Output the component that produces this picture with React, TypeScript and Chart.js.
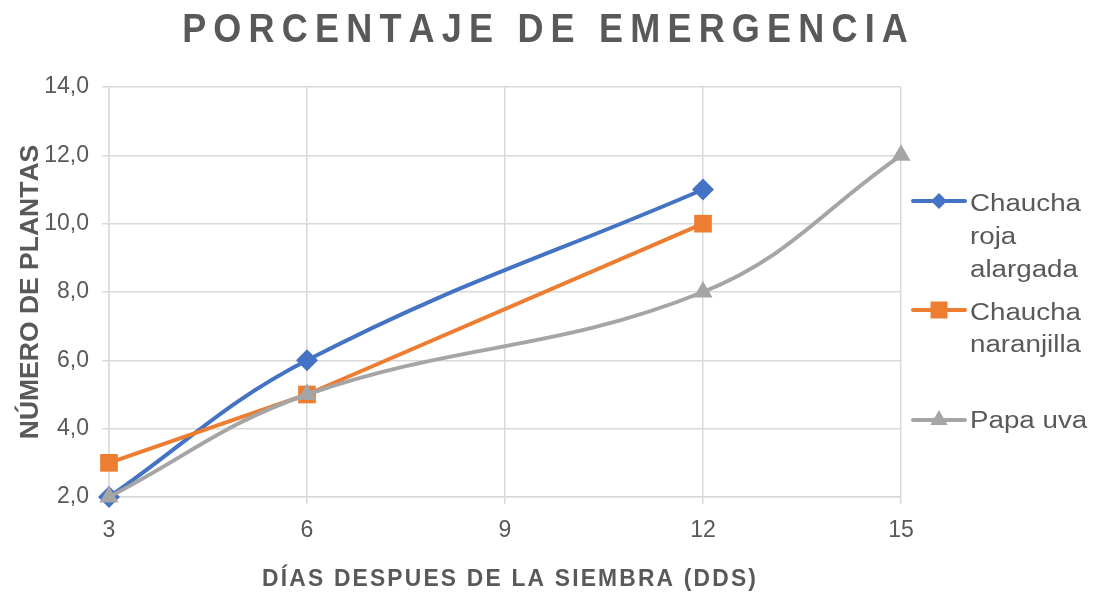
import React, { useEffect, useRef } from "react";
import { Chart, registerables } from "chart.js";

Chart.register(...registerables);

const TITLE = "PORCENTAJE DE EMERGENCIA";
const X_TITLE = "DÍAS DESPUES DE LA SIEMBRA (DDS)";
const Y_TITLE = "NÚMERO DE PLANTAS";

const X_TICKS = [3, 6, 9, 12, 15];
const Y_TICKS = [2, 4, 6, 8, 10, 12, 14];

const SERIES_NAMES = ["Chaucha roja alargada", "Chaucha naranjilla", "Papa uva"];
const LEGEND_LINES = [["Chaucha", "roja", "alargada"], ["Chaucha", "naranjilla"], ["Papa uva"]];

const ROJA_X = [3, 6, 12];
const ROJA_Y = [2, 6, 11];
const NARANJILLA_X = [3, 6, 12];
const NARANJILLA_Y = [3, 5, 10];
const PAPA_X = [3, 6, 12, 15];
const PAPA_Y = [2, 5, 8, 12];

const COLORS = ["#4472C4", "#ED7D31", "#A5A5A5"];
const FONT = "'Liberation Sans', Arial, sans-serif";
const TEXT = "#595959";
const GRID = "#D9D9D9";

function drawText(
  ctx: CanvasRenderingContext2D,
  text: string,
  x: number,
  y: number,
  font: string,
  sx: number,
  spacing: number,
  align: "left" | "center",
  rotate = 0
) {
  ctx.save();
  ctx.font = font;
  ctx.fillStyle = TEXT;
  ctx.textBaseline = "alphabetic";
  ctx.textAlign = "left";
  const chars = Array.from(text);
  const widths = chars.map((c) => ctx.measureText(c).width);
  const total = widths.reduce((a, b) => a + b, 0) * sx + spacing * (chars.length - 1);
  ctx.translate(x, y);
  if (rotate) ctx.rotate(rotate);
  let cx = align === "center" ? -total / 2 : 0;
  chars.forEach((c, i) => {
    ctx.save();
    ctx.translate(cx, 0);
    ctx.scale(sx, 1);
    ctx.fillText(c, 0, 0);
    ctx.restore();
    cx += widths[i] * sx + spacing;
  });
  ctx.restore();
}

function drawMarker(ctx: CanvasRenderingContext2D, kind: number, x: number, y: number) {
  ctx.save();
  ctx.fillStyle = COLORS[kind];
  ctx.beginPath();
  if (kind === 0) {
    const r = 8;
    ctx.moveTo(x, y - r);
    ctx.lineTo(x + r, y);
    ctx.lineTo(x, y + r);
    ctx.lineTo(x - r, y);
  } else if (kind === 1) {
    const h = 8.5;
    ctx.rect(x - h, y - h, 2 * h, 2 * h);
  } else {
    const r = 10;
    ctx.moveTo(x, y - r);
    ctx.lineTo(x + r * 0.866, y + r * 0.5);
    ctx.lineTo(x - r * 0.866, y + r * 0.5);
  }
  ctx.closePath();
  ctx.fill();
  ctx.restore();
}

const decorPlugin = {
  id: "decor",
  afterDraw(chart: any) {
    const ctx: CanvasRenderingContext2D = chart.ctx;
    const area = chart.chartArea;
    // title
    drawText(ctx, TITLE, 545, 42, `bold 40px ${FONT}`, 0.9, 7.2, "center");
    // x title
    drawText(ctx, X_TITLE, (area.left + area.right) / 2 + 4, 586, `bold 24px ${FONT}`, 0.95, 2.2, "center");
    // y title
    drawText(ctx, Y_TITLE, 38, (area.top + area.bottom) / 2, `bold 26.5px ${FONT}`, 1, 0, "center", -Math.PI / 2);
    // legend
    const markerY = [201, 310, 420];
    const baselines = [[211, 244, 277], [320, 352], [428]];
    LEGEND_LINES.forEach((lines, i) => {
      ctx.save();
      ctx.strokeStyle = COLORS[i];
      ctx.lineWidth = 4;
      ctx.lineCap = "round";
      ctx.beginPath();
      ctx.moveTo(913, markerY[i]);
      ctx.lineTo(965, markerY[i]);
      ctx.stroke();
      ctx.restore();
      drawMarker(ctx, i, 939, markerY[i]);
      lines.forEach((t, j) => {
        drawText(ctx, t, 970, baselines[i][j], `23.5px ${FONT}`, 1.18, 0, "left");
      });
    });
  },
};

function pts(xs: number[], ys: number[]) {
  return xs.map((x, i) => ({ x, y: ys[i] }));
}

export default function App() {
  const ref = useRef<HTMLCanvasElement>(null);
  useEffect(() => {
    document.body.style.margin = "0";
    const canvas = ref.current!;
    const chart = new Chart(canvas, {
      type: "line",
      data: {
        datasets: [
          {
            label: SERIES_NAMES[0],
            data: pts(ROJA_X, ROJA_Y),
            borderColor: COLORS[0],
            backgroundColor: COLORS[0],
            borderWidth: 4,
            pointStyle: "rectRot",
            pointRadius: 11,
            pointBorderWidth: 0,
            tension: 0.4,
            order: 3,
            clip: false,
          },
          {
            label: SERIES_NAMES[1],
            data: pts(NARANJILLA_X, NARANJILLA_Y),
            borderColor: COLORS[1],
            backgroundColor: COLORS[1],
            borderWidth: 4,
            pointStyle: "rect",
            pointRadius: 12.5,
            pointBorderWidth: 0,
            tension: 0,
            order: 2,
            clip: false,
          },
          {
            label: SERIES_NAMES[2],
            data: pts(PAPA_X, PAPA_Y),
            borderColor: COLORS[2],
            backgroundColor: COLORS[2],
            borderWidth: 4,
            pointStyle: "triangle",
            pointRadius: 11,
            pointBorderWidth: 0,
            tension: 0.4,
            order: 1,
            clip: false,
          },
        ] as any,
      },
      options: {
        animation: false,
        responsive: false,
        maintainAspectRatio: false,
        layout: { padding: { left: 0, top: 87, right: 192, bottom: 0 } },
        plugins: {
          legend: { display: false },
          title: { display: false },
          tooltip: { enabled: false },
        },
        scales: {
          x: {
            type: "linear",
            min: X_TICKS[0],
            max: X_TICKS[X_TICKS.length - 1],
            afterBuildTicks: (scale: any) => {
              scale.ticks = X_TICKS.map((v) => ({ value: v }));
            },
            afterFit: (scale: any) => {
              scale.height = 98;
            },
            ticks: {
              color: TEXT,
              font: { family: FONT, size: 23 },
              padding: 13,
              maxRotation: 0,
              callback: (v: any) => String(v),
            },
            grid: { color: GRID, lineWidth: 1.5, tickLength: 7, tickColor: GRID, drawTicks: true },
            border: { display: true, color: GRID, width: 1.5 },
          },
          y: {
            type: "linear",
            min: Y_TICKS[0],
            max: Y_TICKS[Y_TICKS.length - 1],
            afterBuildTicks: (scale: any) => {
              scale.ticks = Y_TICKS.map((v) => ({ value: v }));
            },
            afterFit: (scale: any) => {
              scale.width = 109;
            },
            ticks: {
              color: TEXT,
              font: { family: FONT, size: 23 },
              padding: 13,
              callback: (v: any) => Number(v).toFixed(1).replace(".", ","),
            },
            grid: { color: GRID, lineWidth: 1.5, tickLength: 7, tickColor: GRID, drawTicks: true },
            border: { display: true, color: GRID, width: 1.5 },
          },
        },
      },
      plugins: [decorPlugin],
    });
    return () => chart.destroy();
  }, []);
  return (
    <div style={{ position: "fixed", left: 0, top: 0, width: 1093, height: 595, background: "#fff" }}>
      <canvas ref={ref} width={1093} height={595} style={{ width: 1093, height: 595, display: "block" }} />
    </div>
  );
}
